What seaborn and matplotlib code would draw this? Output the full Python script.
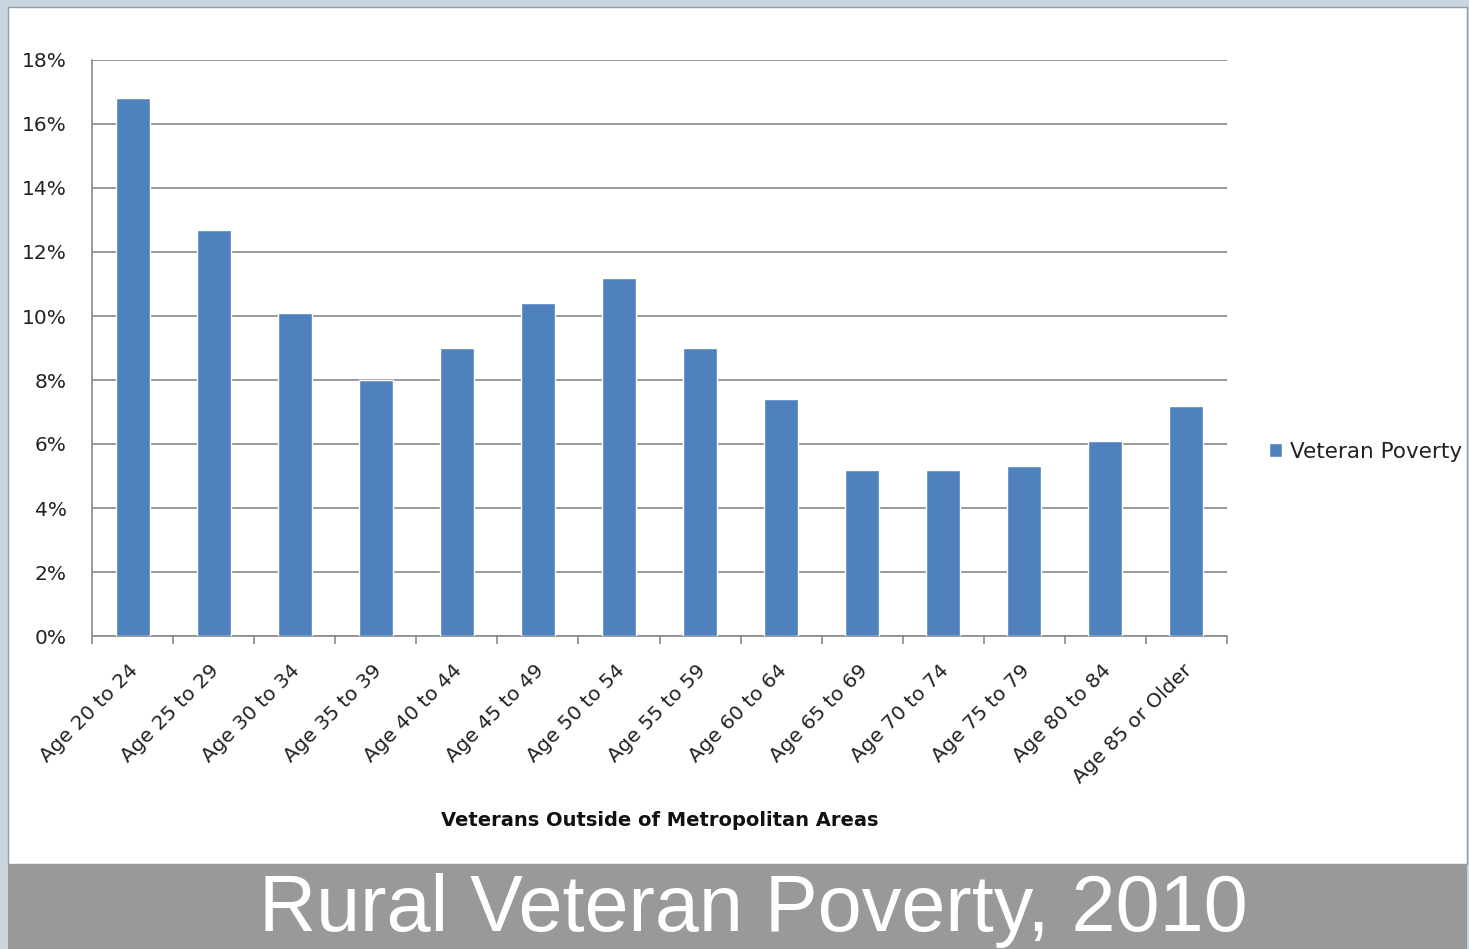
import numpy as np
import pandas as pd
import seaborn as sns
import matplotlib.pyplot as plt
import matplotlib.transforms as mtransforms
from matplotlib.patches import Rectangle
from matplotlib.ticker import FuncFormatter, FixedLocator

# data
ages = ["Age 20 to 24", "Age 25 to 29", "Age 30 to 34", "Age 35 to 39",
        "Age 40 to 44", "Age 45 to 49", "Age 50 to 54", "Age 55 to 59",
        "Age 60 to 64", "Age 65 to 69", "Age 70 to 74", "Age 75 to 79",
        "Age 80 to 84", "Age 85 or Older"]
poverty = [16.8, 12.7, 10.1, 8.0, 9.0, 10.4, 11.2, 9.0, 7.4, 5.2, 5.2, 5.3, 6.1, 7.2]
y_ticks = [0, 2, 4, 6, 8, 10, 12, 14, 16, 18]

df = pd.DataFrame({"age": ages, "pct": poverty})

sns.set_style("white")
plt.rcParams['font.family'] = ['DejaVu Sans']

W, H = 1469, 949
fig = plt.figure(figsize=(W / 100, H / 100), dpi=100, facecolor="#cad5df")

# white panel + grey banner (behind the axes)
fig.patches.append(Rectangle((8 / W, (H - 864) / H), 1459 / W, 857 / H,
                             transform=fig.transFigure, facecolor="white",
                             edgecolor="#8d9cab", lw=1, zorder=-2))
fig.patches.append(Rectangle((8 / W, 0), 1459 / W, (H - 864) / H,
                             transform=fig.transFigure, facecolor="#999999",
                             edgecolor="none", zorder=-1))

ax = fig.add_axes([92 / W, (H - 636) / H, 1135 / W, 576 / H])
ax.set_facecolor("none")
sns.barplot(data=df, x="age", y="pct", color="#4f81bd", width=0.42,
            saturation=1, ax=ax, label="Veteran Poverty", zorder=3)

ax.set_ylim(0, 18)
ax.set_xlim(-0.5, len(ages) - 0.5)
ax.yaxis.set_major_locator(FixedLocator(y_ticks))
ax.yaxis.set_major_formatter(FuncFormatter(lambda v, p: f"{v:.0f}%"))
ax.grid(axis="y", color="#8a8a8a", lw=1.2, zorder=0)
ax.set_axisbelow(True)
ax.tick_params(axis="y", length=0, pad=18, labelsize=14.5, labelcolor="#222222")

# category boundary ticks
ax.set_xticks(np.arange(-0.5, len(ages)), minor=True)
ax.tick_params(axis="x", which="minor", length=6, width=1.2, color="#8a8a8a",
               direction="out", bottom=True)
ax.tick_params(axis="x", which="major", length=0, labelsize=14.5, labelcolor="#222222", pad=16)
ax.set_xticks(range(len(ages)))
ax.set_xticklabels(ages, rotation=45, ha="right", rotation_mode="anchor")
shift = mtransforms.ScaledTranslation(-4 / 100, -3 / 100, fig.dpi_scale_trans)
for lbl in ax.get_xticklabels():
    lbl.set_transform(lbl.get_transform() + shift)

for s in ["top", "right"]:
    ax.spines[s].set_visible(False)
for s in ["left", "bottom"]:
    ax.spines[s].set_color("#8a8a8a")
    ax.spines[s].set_linewidth(1.2)

ax.set_ylabel("")
ax.set_xlabel("Veterans Outside of Metropolitan Areas", fontsize=14,
              fontweight="bold", color="#111111", labelpad=18)
ax.xaxis.set_label_coords(0.5, -(821 - 636) / 576, transform=ax.transAxes)
ax.xaxis.label.set_va("center")

leg = ax.legend(loc="center left", bbox_to_anchor=(1.02, 0.32), frameon=False,
                fontsize=15.5, handlelength=0.6, handleheight=0.6, handletextpad=0.35)
for t in leg.get_texts():
    t.set_color("#222222")

fig.text(753 / W, (H - 931) / H, "Rural Veteran Poverty, 2010",
         ha="center", va="baseline", color="white", fontsize=57,
         family=["Liberation Sans", "DejaVu Sans"])

fig.savefig("out.png", dpi=100, facecolor=fig.get_facecolor())
